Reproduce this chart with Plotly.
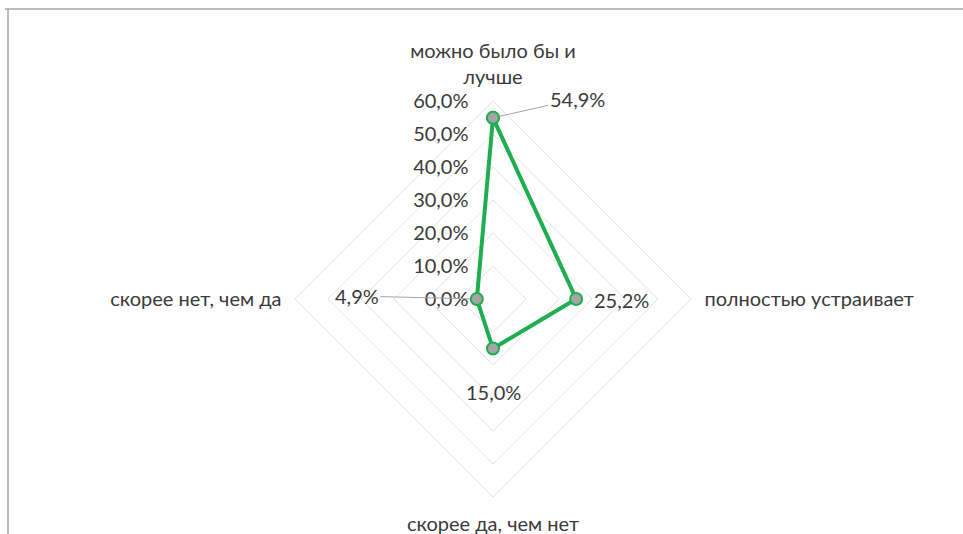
import math
import plotly.graph_objects as go

categories = ["можно было бы и<br>лучше", "полностью устраивает", "скорее да, чем нет", "скорее нет, чем да"]
values = [0.549, 0.252, 0.150, 0.049]
value_labels = ["54,9%", "25,2%", "15,0%", "4,9%"]

W, H = 963, 534
CX, CY, R = 493, 299, 198
RMAX = 0.6
FONT = "Lato"
FS = 20
TXT = "#3a3a3a"

fig = go.Figure()
fig.add_trace(go.Scatterpolar(
    r=values + [values[0]],
    theta=categories + [categories[0]],
    mode="lines+markers",
    line=dict(color="#1fae4f", width=4),
    marker=dict(size=12, color="#a5a5a5", line=dict(color="#1fae4f", width=2)),
    hoverinfo="skip",
    showlegend=False,
))

# data labels (offsets in pixels relative to the point)
offsets = [(84, -19, True), (45, 1, False), (0, 43, False), (-120, -3, True)]
for i, (v, lab) in enumerate(zip(values, value_labels)):
    ang = math.radians(90 * i)
    px = CX + v / RMAX * R * math.sin(ang)
    py = CY - v / RMAX * R * math.cos(ang)
    ax, ay, arrow = offsets[i]
    if arrow:
        fig.add_annotation(x=px / W, y=1 - py / H, xref="paper", yref="paper",
                           text=lab, showarrow=True, ax=ax, ay=ay, axref="pixel", ayref="pixel",
                           arrowhead=0, arrowwidth=1, arrowcolor="#a6a6a6", standoff=7,
                           font=dict(family=FONT, size=FS, color=TXT))
    else:
        fig.add_annotation(x=(px + ax) / W, y=1 - (py + ay) / H, xref="paper", yref="paper",
                           xanchor="center", yanchor="middle",
                           text=lab, showarrow=False,
                           font=dict(family=FONT, size=FS, color=TXT))

fig.update_layout(
    width=W, height=H,
    margin=dict(l=0, r=0, t=0, b=0),
    paper_bgcolor="white",
    separators=", ",
    font=dict(family=FONT, size=FS, color=TXT),
    polar=dict(
        domain=dict(x=[(CX - R) / W, (CX + R) / W], y=[1 - (CY + R) / H, 1 - (CY - R) / H]),
        gridshape="linear",
        bgcolor="white",
        radialaxis=dict(range=[0, RMAX], dtick=0.1, tickformat=".1%", angle=90, tickangle=90,
                        side="counterclockwise", showline=False,
                        ticks="outside", ticklen=17, tickcolor="rgba(0,0,0,0)",
                        gridcolor="#e3e3e3", gridwidth=1,
                        tickfont=dict(family=FONT, size=FS, color=TXT)),
        angularaxis=dict(rotation=90, direction="clockwise", showline=True, linecolor="#e3e3e3",
                         showgrid=False, ticks="outside", ticklen=9, tickcolor="rgba(0,0,0,0)",
                         tickfont=dict(family=FONT, size=FS, color=TXT)),
    ),
    shapes=[
        dict(type="line", xref="paper", yref="paper", x0=5 / W, x1=1, y0=1 - 9 / H, y1=1 - 9 / H,
             line=dict(color="#a6a6a6", width=1.5)),
        dict(type="line", xref="paper", yref="paper", x0=8 / W, x1=8 / W, y0=0, y1=1 - 9 / H,
             line=dict(color="#a6a6a6", width=1.5)),
    ],
)

fig.write_html("out.html", config={"displayModeBar": False},
               post_script="document.body.style.margin='0';document.body.style.overflow='hidden';")
